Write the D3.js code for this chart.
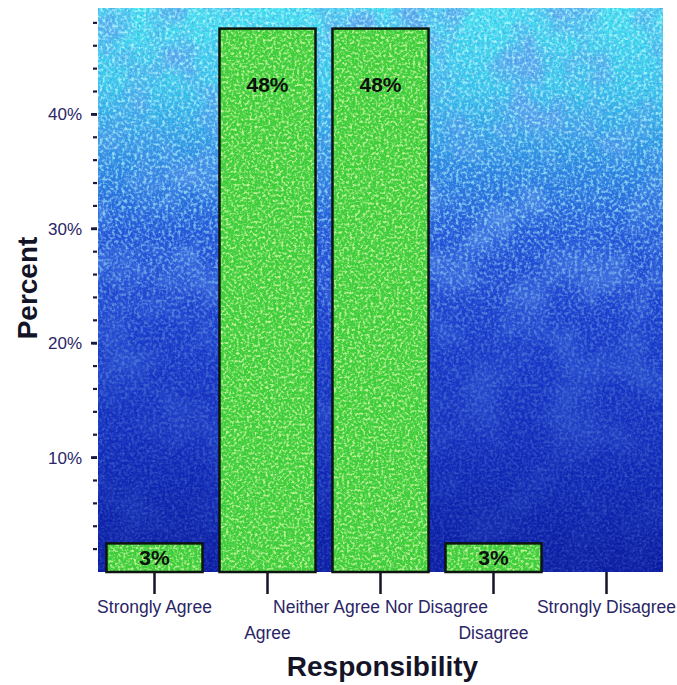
<!DOCTYPE html>
<html>
<head>
<meta charset="utf-8">
<script src="https://cdn.jsdelivr.net/npm/d3@7"></script>
<style>
  html, body { margin: 0; padding: 0; background: #ffffff; }
  svg { display: block; }
</style>
</head>
<body>
<svg id="chart" width="677" height="685"></svg>
<script>
// Survey responses on responsibility, percent of respondents per answer
const categories = ["Strongly Agree", "Agree", "Neither Agree Nor Disagree", "Disagree", "Strongly Disagree"];
const percents = [2.5, 47.5, 47.5, 2.5, 0];
const majorTicks = [10, 20, 30, 40];
const minorTicks = d3.range(2, 49, 2);
const xTitle = "Responsibility";
const yTitle = "Percent";

const svg = d3.select("#chart");
const plot = { left: 98, right: 663, top: 8, bottom: 572 };

const x = d3.scaleBand()
  .domain(categories)
  .range([plot.left, plot.right])
  .paddingInner(0.15)
  .paddingOuter(0.075);

const y = d3.scaleLinear()
  .domain([0, 49.3])
  .range([plot.bottom, plot.top]);

const defs = svg.append("defs");

// vertical backdrop gradient: cyan at the top fading to deep blue
const bg = defs.append("linearGradient")
  .attr("id", "bgGrad").attr("x1", 0).attr("y1", 0).attr("x2", 0).attr("y2", 1);
[[0, "#44e2f0"], [0.14, "#3ac8ec"], [0.28, "#2c88e2"], [0.4, "#2256d8"],
 [0.55, "#1a3ccc"], [0.75, "#122cbc"], [1, "#0a1aa0"]]
  .forEach(([o, c]) => bg.append("stop").attr("offset", o).attr("stop-color", c));

// fade mask so the speckle is strongest near the top
const fade = defs.append("linearGradient")
  .attr("id", "fadeGrad").attr("x1", 0).attr("y1", 0).attr("x2", 0).attr("y2", 1);
[[0, 1], [0.35, 0.8], [0.6, 0.3], [1, 0.08]]
  .forEach(([o, a]) => fade.append("stop").attr("offset", o).attr("stop-color", "#fff").attr("stop-opacity", a));
defs.append("mask").attr("id", "fadeMask")
  .attr("maskUnits", "userSpaceOnUse")
  .attr("x", plot.left).attr("y", plot.top)
  .attr("width", plot.right - plot.left).attr("height", plot.bottom - plot.top)
  .append("rect")
  .attr("x", plot.left).attr("y", plot.top)
  .attr("width", plot.right - plot.left).attr("height", plot.bottom - plot.top)
  .attr("fill", "url(#fadeGrad)");

// speckle filters built from turbulence noise
function speckle(id, freq, octaves, seed, rgb, gain, offset) {
  const f = defs.append("filter").attr("id", id)
    .attr("x", 0).attr("y", 0).attr("width", 1).attr("height", 1);
  f.append("feTurbulence").attr("type", "fractalNoise")
    .attr("baseFrequency", freq).attr("numOctaves", octaves).attr("seed", seed).attr("result", "n");
  f.append("feColorMatrix").attr("in", "n").attr("type", "matrix")
    .attr("values", `0 0 0 0 ${rgb[0]}  0 0 0 0 ${rgb[1]}  0 0 0 0 ${rgb[2]}  ${gain} 0 0 0 ${offset}`)
    .attr("result", "c");
  f.append("feComposite").attr("in", "c").attr("in2", "SourceGraphic").attr("operator", "in");
}
speckle("lightSpeck", 0.32, 2, 3, [0.5, 1, 1], 3.4, -1.5);
speckle("darkBlot", 0.02, 3, 7, [0.12, 0.32, 0.85], 3.2, -1.4);
speckle("darkSpeck", 0.4, 2, 11, [0.08, 0.18, 0.7], 2.8, -1.3);
speckle("greenLight", 0.38, 2, 5, [0.7, 0.98, 0.4], 3.2, -1.45);
speckle("greenDark", 0.4, 2, 9, [0.08, 0.55, 0.1], 3.0, -1.4);

const clip = defs.append("clipPath").attr("id", "plotClip");
clip.append("rect")
  .attr("x", plot.left).attr("y", plot.top)
  .attr("width", plot.right - plot.left).attr("height", plot.bottom - plot.top);

// plot backdrop with mottled texture
const back = svg.append("g").attr("clip-path", "url(#plotClip)");
const pr = () => back.append("rect")
  .attr("x", plot.left).attr("y", plot.top)
  .attr("width", plot.right - plot.left).attr("height", plot.bottom - plot.top);
pr().attr("fill", "url(#bgGrad)");
pr().attr("fill", "#fff").attr("filter", "url(#darkBlot)").attr("mask", "url(#fadeMask)").attr("opacity", 0.75);
pr().attr("fill", "#fff").attr("filter", "url(#lightSpeck)").attr("mask", "url(#fadeMask)").attr("opacity", 0.8);
pr().attr("fill", "#fff").attr("filter", "url(#darkSpeck)").attr("opacity", 0.4);

// bars
const shown = categories.map((c, i) => ({ c, v: percents[i] })).filter(d => d.v > 0);
const bars = svg.append("g");
["none", "url(#greenDark)", "url(#greenLight)"].forEach((flt, k) => {
  bars.selectAll(null).data(shown).enter().append("rect")
    .attr("x", d => x(d.c))
    .attr("y", d => y(d.v))
    .attr("width", x.bandwidth())
    .attr("height", d => y(0) - y(d.v))
    .attr("fill", k === 0 ? "#3ccf38" : "#fff")
    .attr("filter", k === 0 ? null : flt)
    .attr("opacity", k === 0 ? 1 : 0.85);
});
bars.selectAll(null).data(shown).enter().append("rect")
  .attr("x", d => x(d.c))
  .attr("y", d => y(d.v))
  .attr("width", x.bandwidth())
  .attr("height", d => y(0) - y(d.v))
  .attr("fill", "none")
  .attr("stroke", "#0c160e")
  .attr("stroke-width", 2.5);

// value labels inside the bars
svg.append("g").selectAll("text").data(shown).enter().append("text")
  .attr("x", d => x(d.c) + x.bandwidth() / 2)
  .attr("y", d => d.v > 10 ? y(d.v) + 63 : (y(d.v) + y(0)) / 2 + 7)
  .attr("text-anchor", "middle")
  .attr("font-family", "Liberation Sans, Arial, sans-serif")
  .attr("font-weight", "bold")
  .attr("font-size", 21)
  .attr("fill", "#0c120c")
  .text(d => Math.round(d.v) + "%");

// y axis: minor and major ticks, labels for the major ones
const yAxis = svg.append("g");
yAxis.selectAll("line.minor").data(minorTicks).enter().append("line")
  .attr("x1", plot.left - 5).attr("x2", plot.left - 1)
  .attr("y1", d => y(d)).attr("y2", d => y(d))
  .attr("stroke", "#1a1a40").attr("stroke-width", 2.2);
yAxis.selectAll("line.major").data(majorTicks).enter().append("line")
  .attr("x1", plot.left - 7).attr("x2", plot.left - 1)
  .attr("y1", d => y(d)).attr("y2", d => y(d))
  .attr("stroke", "#1a1a40").attr("stroke-width", 2.8);
yAxis.selectAll("text").data(majorTicks).enter().append("text")
  .attr("x", 82).attr("y", d => y(d) + 6)
  .attr("text-anchor", "end")
  .attr("font-family", "Liberation Sans, Arial, sans-serif")
  .attr("font-size", 17)
  .attr("fill", "#2a2566")
  .text(d => d + "%");

// x axis: tick marks and staggered category labels
const xAxis = svg.append("g");
xAxis.selectAll("line").data(categories).enter().append("line")
  .attr("x1", d => x(d) + x.bandwidth() / 2).attr("x2", d => x(d) + x.bandwidth() / 2)
  .attr("y1", plot.bottom).attr("y2", plot.bottom + 22)
  .attr("stroke", "#141428").attr("stroke-width", 2.5);
xAxis.selectAll("text").data(categories).enter().append("text")
  .attr("x", d => x(d) + x.bandwidth() / 2)
  .attr("y", (d, i) => i % 2 === 0 ? 613 : 639)
  .attr("text-anchor", "middle")
  .attr("font-family", "Liberation Sans, Arial, sans-serif")
  .attr("font-size", 17.5)
  .attr("fill", "#2a2566")
  .text(d => d);

// axis titles
svg.append("text")
  .attr("x", (plot.left + plot.right) / 2 + 2).attr("y", 676)
  .attr("text-anchor", "middle")
  .attr("font-family", "Liberation Sans, Arial, sans-serif")
  .attr("font-weight", "bold").attr("font-size", 28)
  .attr("fill", "#141428")
  .text(xTitle);
svg.append("text")
  .attr("transform", "translate(37,288) rotate(-90)")
  .attr("text-anchor", "middle")
  .attr("font-family", "Liberation Sans, Arial, sans-serif")
  .attr("font-weight", "bold").attr("font-size", 28)
  .attr("fill", "#141428")
  .text(yTitle);
</script>
</body>
</html>
